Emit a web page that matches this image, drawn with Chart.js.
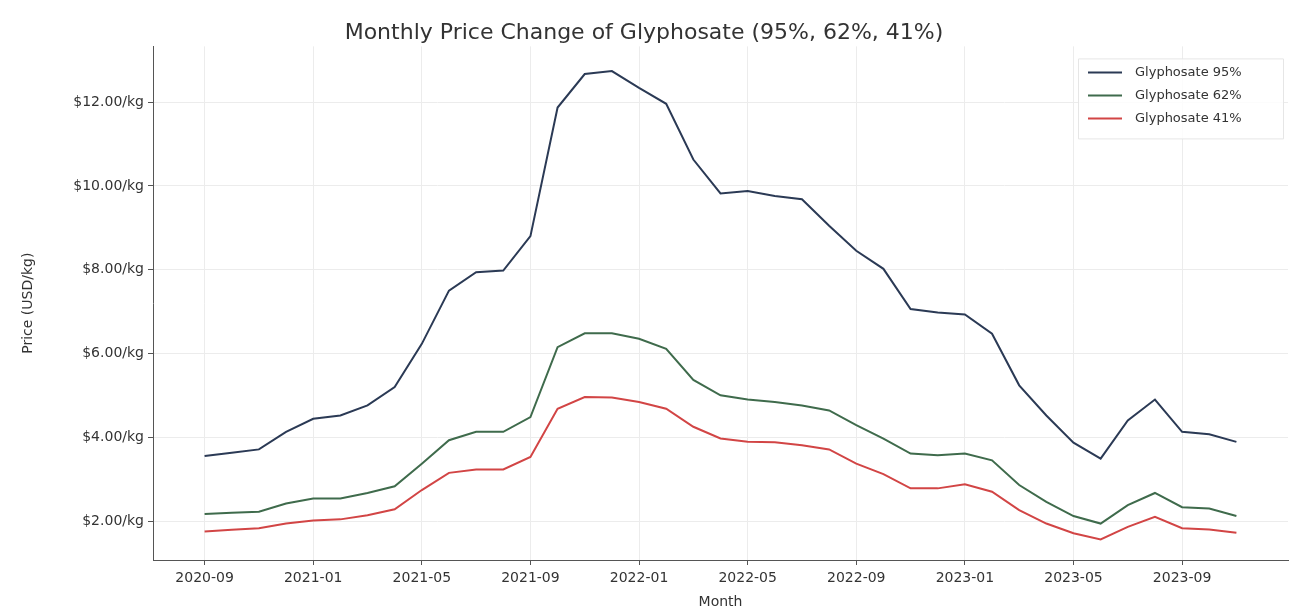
<!DOCTYPE html>
<html>
<head>
<meta charset="utf-8">
<title>Monthly Price Change of Glyphosate</title>
<script src="https://cdn.jsdelivr.net/npm/chart.js@4"></script>
<style>
  html, body { margin: 0; padding: 0; background: #fff; }
  #wrap { width: 1297px; height: 613px; }
</style>
</head>
<body>
<div id="wrap"><canvas id="priceChart" width="1297" height="613"></canvas></div>
<script>
"use strict";

// Months 2020-09 .. 2023-11
const months = [
  "2020-09", "2020-10", "2020-11", "2020-12",
  "2021-01", "2021-02", "2021-03", "2021-04", "2021-05", "2021-06",
  "2021-07", "2021-08", "2021-09", "2021-10", "2021-11", "2021-12",
  "2022-01", "2022-02", "2022-03", "2022-04", "2022-05", "2022-06",
  "2022-07", "2022-08", "2022-09", "2022-10", "2022-11", "2022-12",
  "2023-01", "2023-02", "2023-03", "2023-04", "2023-05", "2023-06",
  "2023-07", "2023-08", "2023-09", "2023-10", "2023-11",
];

// Prices, USD/kg
const glyphosate95 = [
  3.55, 3.63, 3.71, 4.13, 4.44, 4.52, 4.76, 5.20, 6.23, 7.50,
  7.94, 7.98, 8.80, 11.87, 12.67, 12.74, 12.34, 11.96, 10.63, 9.82,
  9.88, 9.76, 9.68, 9.05, 8.45, 8.02, 7.06, 6.98, 6.93, 6.47,
  5.24, 4.52, 3.87, 3.49, 4.40, 4.90, 4.13, 4.07, 3.89,
];
const glyphosate62 = [
  2.17, 2.20, 2.22, 2.42, 2.54, 2.54, 2.67, 2.83, 3.37, 3.93,
  4.13, 4.13, 4.48, 6.15, 6.48, 6.48, 6.35, 6.11, 5.37, 5.00,
  4.90, 4.84, 4.76, 4.64, 4.29, 3.97, 3.61, 3.57, 3.61, 3.45,
  2.86, 2.46, 2.12, 1.94, 2.38, 2.67, 2.33, 2.30, 2.12,
];
const glyphosate41 = [
  1.75, 1.79, 1.83, 1.94, 2.01, 2.04, 2.14, 2.28, 2.74, 3.15,
  3.23, 3.23, 3.53, 4.68, 4.96, 4.95, 4.84, 4.68, 4.25, 3.97,
  3.89, 3.88, 3.81, 3.71, 3.37, 3.12, 2.78, 2.78, 2.88, 2.70,
  2.26, 1.94, 1.71, 1.56, 1.86, 2.10, 1.83, 1.80, 1.72,
];

const seriesNames = ["Glyphosate 95%", "Glyphosate 62%", "Glyphosate 41%"];
const yTicks = [2, 4, 6, 8, 10, 12];
const xTickStep = 4;

const FONT = "'DejaVu Sans', sans-serif";

function toPoints(values) {
  return values.map((v, i) => ({ x: i, y: v }));
}

// Legend drawn inside the plot, upper right
const insideLegend = {
  id: "insideLegend",
  afterDraw(chart) {
    const ctx = chart.ctx;
    const area = chart.chartArea;
    const sets = chart.data.datasets;
    const boxW = 205;
    const rowH = 23;
    const boxH = rowH * sets.length + 11;
    const x0 = area.right - boxW - 5;
    const y0 = area.top + 12;

    ctx.save();
    ctx.fillStyle = "rgba(255,255,255,0.85)";
    ctx.strokeStyle = "#e6e6e6";
    ctx.lineWidth = 1;
    ctx.beginPath();
    ctx.rect(x0 + 0.5, y0 + 0.5, boxW, boxH);
    ctx.fill();
    ctx.stroke();

    ctx.font = "13px " + FONT;
    ctx.textBaseline = "middle";
    sets.forEach((ds, i) => {
      const cy = y0 + 14 + i * rowH;
      ctx.strokeStyle = ds.borderColor;
      ctx.lineWidth = 2;
      ctx.beginPath();
      ctx.moveTo(x0 + 10, cy);
      ctx.lineTo(x0 + 44, cy);
      ctx.stroke();
      ctx.fillStyle = "#333";
      ctx.fillText(ds.label, x0 + 57, cy);
    });
    ctx.restore();
  },
};

const ctx = document.getElementById("priceChart").getContext("2d");

new Chart(ctx, {
  type: "line",
  data: {
    datasets: [
      {
        label: seriesNames[0],
        data: toPoints(glyphosate95),
        borderColor: "#2b3a55",
      },
      {
        label: seriesNames[1],
        data: toPoints(glyphosate62),
        borderColor: "#3f6b4c",
      },
      {
        label: seriesNames[2],
        data: toPoints(glyphosate41),
        borderColor: "#d24545",
      },
    ],
  },
  options: {
    responsive: false,
    animation: false,
    layout: { padding: { left: 0, right: 9, top: 0, bottom: 0 } },
    elements: {
      line: { borderWidth: 2, tension: 0 },
      point: { radius: 0 },
    },
    plugins: {
      legend: { display: false },
      tooltip: { enabled: false },
      title: {
        display: true,
        text: "Monthly Price Change of Glyphosate (95%, 62%, 41%)",
        color: "#333",
        font: { family: FONT, size: 22, weight: "normal" },
        padding: { top: 20, bottom: 0 },
      },
    },
    scales: {
      x: {
        type: "linear",
        min: -1.9,
        max: months.length - 1 + 1.9,
        afterBuildTicks(scale) {
          const t = [];
          for (let i = 0; i < months.length; i += xTickStep) t.push({ value: i });
          scale.ticks = t;
        },
        afterFit(scale) {
          scale.height = 53;
        },
        ticks: {
          color: "#333",
          font: { family: FONT, size: 14 },
          padding: 5,
          maxRotation: 0,
          autoSkip: false,
          callback: (v) => months[v] || "",
        },
        grid: { color: "#ececec", tickLength: 5, tickColor: "#555" },
        border: { display: true, color: "#555", width: 1 },
        title: {
          display: true,
          text: "Month",
          color: "#333",
          font: { family: FONT, size: 14 },
          padding: { top: 0, bottom: 2 },
        },
      },
      y: {
        min: 1.07,
        max: 13.33,
        afterBuildTicks(scale) {
          scale.ticks = yTicks.map((v) => ({ value: v }));
        },
        afterFit(scale) {
          scale.width = 153;
        },
        ticks: {
          color: "#333",
          font: { family: FONT, size: 14 },
          padding: 4,
          callback: (v) => "$" + Number(v).toFixed(2) + "/kg",
        },
        grid: { color: "#ececec", tickLength: 5, tickColor: "#555" },
        border: { display: true, color: "#555", width: 1 },
        title: {
          display: true,
          text: "Price (USD/kg)",
          color: "#333",
          font: { family: FONT, size: 14 },
          padding: { top: 20, bottom: 0 },
        },
      },
    },
  },
  plugins: [insideLegend],
});
</script>
</body>
</html>
